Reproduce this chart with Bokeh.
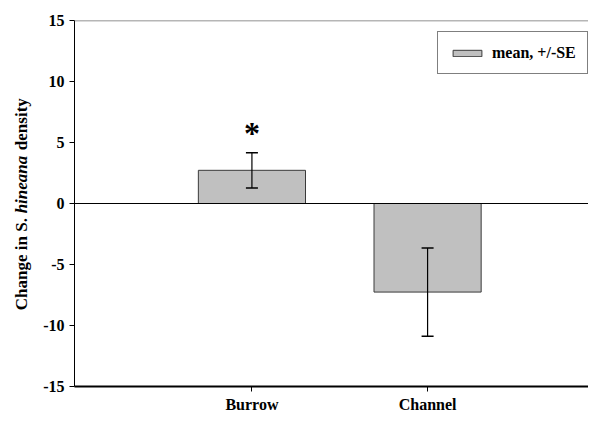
from bokeh.plotting import figure
from bokeh.layouts import row
from bokeh.models import (ColumnDataSource, Whisker, TeeHead, Span,
                          FixedTicker, Legend, LegendItem, Range1d)
from bokeh.core.properties import value
from bokeh.embed import file_html
from bokeh.resources import INLINE
import math

# ---- data ----
categories = ["Burrow", "Channel"]
means = [2.72, -7.26]
se = [1.45, 3.62]
significance = ["*", ""]
y_ticks = [-15, -10, -5, 0, 5, 10, 15]
legend_label = "mean, +/-SE"
ylabel_parts = ["Change in S.", "hineana", "density"]
ylabel_styles = ["bold", "bold italic", "bold"]

xpos = [1, 2]
upper = [m + s for m, s in zip(means, se)]
lower = [m - s for m, s in zip(means, se)]
sig_y = [u + 1.6 for u in upper]

FONT = "Liberation Serif"
H = 415

# ---- narrow figure holding the rotated y-axis title ----
lab = figure(width=40, height=H, output_backend="svg", toolbar_location=None,
             x_range=Range1d(0, 40), y_range=Range1d(0, H),
             x_axis_location=None, y_axis_location=None,
             min_border_left=0, min_border_right=0, min_border_top=0,
             min_border_bottom=0)
lab.grid.visible = False
lab.outline_line_color = None
lab.background_fill_color = "white"
lab.border_fill_color = "white"
# anchor (px from bottom) and alignment of each run of the title
seg_anchor = [191, 229, 268]
seg_align = ["right", "center", "left"]
for txt, style, ys, al in zip(ylabel_parts, ylabel_styles, seg_anchor, seg_align):
    lab.text(x=[21], y=[ys], text=[txt], angle=math.pi / 2,
             text_align=al, text_baseline="middle",
             text_font=value(FONT), text_font_style=style,
             text_font_size="17px", text_color="black")

# ---- main chart ----
src = ColumnDataSource(dict(x=xpos, top=means, upper=upper, lower=lower,
                            cat=categories, sig=significance, sig_y=sig_y))

p = figure(width=548, height=H, output_backend="svg", toolbar_location=None,
           x_range=Range1d(-0.01, 2.916), y_range=Range1d(-15, 15),
           min_border_left=33, min_border_right=0, min_border_top=20,
           min_border_bottom=26)
p.grid.visible = False
p.outline_line_color = None
p.background_fill_color = "white"
p.border_fill_color = "white"

bars = p.vbar(x="x", top="top", bottom=0, width=0.61, source=src,
              fill_color="#c0c0c0", line_color="#3a3a3a", line_width=1)

p.add_layout(Span(location=0, dimension="width", line_color="black", line_width=1))
p.add_layout(Span(location=15, dimension="width", line_color="#6e6e6e", line_width=1.5))

wh = Whisker(base="x", upper="upper", lower="lower", source=src,
             line_color="black", line_width=1.2,
             upper_head=TeeHead(size=12, line_color="black", line_width=1.5),
             lower_head=TeeHead(size=12, line_color="black", line_width=1.5))
wh.level = "overlay"
p.add_layout(wh)

p.text(x="x", y="sig_y", text="sig", source=src, text_align="center",
       text_baseline="middle", text_font=value(FONT), text_font_style="bold",
       text_font_size="32px", text_color="black")

# axes
p.yaxis.ticker = FixedTicker(ticks=y_ticks)
p.yaxis.major_label_overrides = {t: str(t) for t in y_ticks}
p.yaxis.major_tick_out = 5
p.yaxis.major_tick_in = 0
p.yaxis.minor_tick_line_color = None
p.yaxis.axis_line_color = "black"
p.yaxis.axis_line_width = 1
p.yaxis.major_tick_line_color = "black"
p.yaxis.major_label_text_font = FONT
p.yaxis.major_label_text_font_style = "bold"
p.yaxis.major_label_text_font_size = "16px"
p.yaxis.major_label_text_color = "black"
p.yaxis.major_label_standoff = 5

p.xaxis.ticker = FixedTicker(ticks=xpos)
p.xaxis.major_label_overrides = {x: c for x, c in zip(xpos, categories)}
p.xaxis.major_tick_out = 5
p.xaxis.major_tick_in = 0
p.xaxis.minor_tick_line_color = None
p.xaxis.axis_line_color = "black"
p.xaxis.axis_line_width = 2
p.xaxis.major_tick_line_color = "black"
p.xaxis.major_label_text_font = FONT
p.xaxis.major_label_text_font_style = "bold"
p.xaxis.major_label_text_font_size = "16px"
p.xaxis.major_label_text_color = "black"
p.xaxis.major_label_standoff = 4

legend = Legend(items=[LegendItem(label=legend_label, renderers=[bars], index=0)],
                location=(363, 312), orientation="vertical",
                border_line_color="black", border_line_width=1,
                background_fill_color="white", background_fill_alpha=1,
                label_text_font=FONT, label_text_font_style="bold",
                label_text_font_size="16px", label_text_color="black",
                glyph_width=36, glyph_height=8, label_height=19,
                label_standoff=7, padding=11, margin=0, spacing=0)
p.add_layout(legend)

layout = row(lab, p, spacing=0)
open("out.html", "w").write(file_html(layout, INLINE))
